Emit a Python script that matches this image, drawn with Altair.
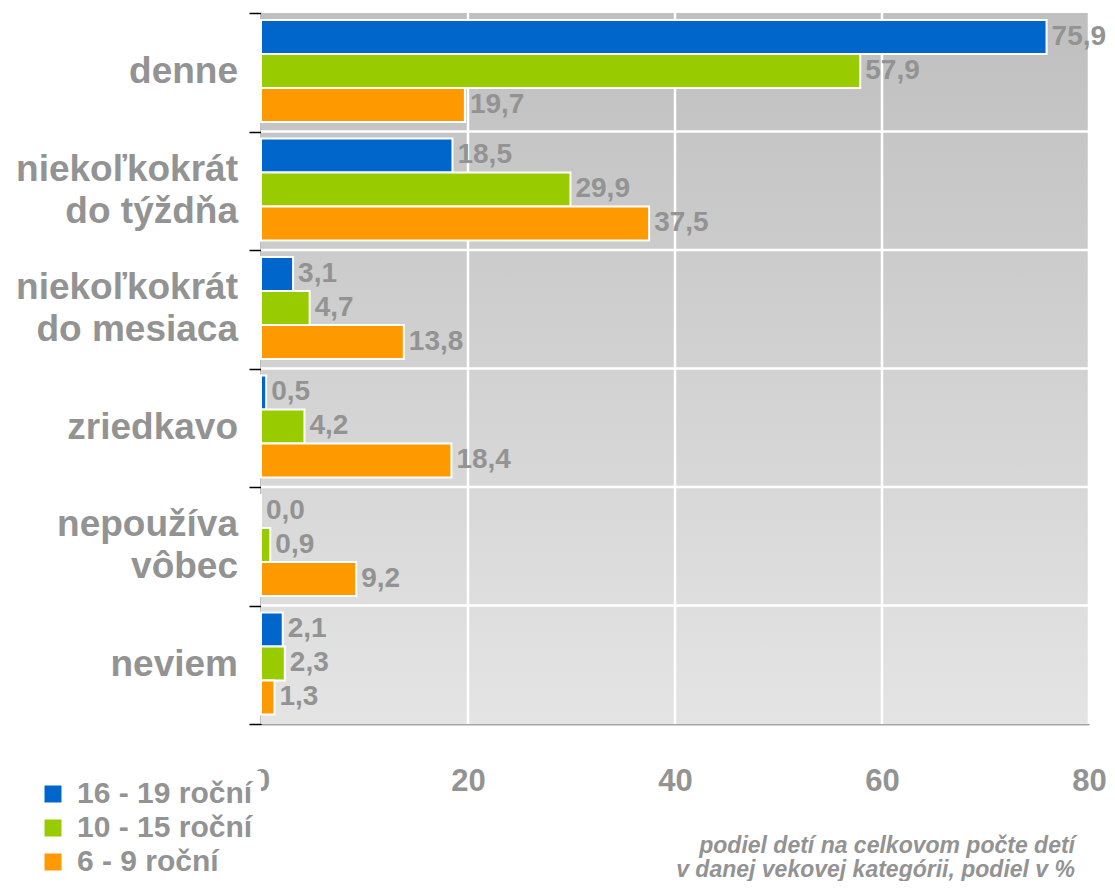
import altair as alt
import pandas as pd

# ---- data ----
categories = ["denne", "niekoľkokrát\ndo týždňa", "niekoľkokrát\ndo mesiaca",
              "zriedkavo", "nepoužíva\nvôbec", "neviem"]
series = ["16 - 19 roční", "10 - 15 roční", "6 - 9 roční"]
v_16_19 = [75.9, 18.5, 3.1, 0.5, 0.0, 2.1]
v_10_15 = [57.9, 29.9, 4.7, 4.2, 0.9, 2.3]
v_6_9 = [19.7, 37.5, 13.8, 18.4, 9.2, 1.3]
colors = ["#0066CC", "#99CC00", "#FF9900"]
x_ticks = [0, 20, 40, 60, 80]
note = ["podiel detí na celkovom počte detí", "v danej vekovej kategórii, podiel v %"]

rows = []
for s, vals in zip(series, [v_16_19, v_10_15, v_6_9]):
    for c, v in zip(categories, vals):
        rows.append({"category": c, "series": s, "value": v,
                     "label": f"{v:.1f}".replace(".", ",")})
df = pd.DataFrame(rows)

single = pd.DataFrame({"category": [c for c in categories if "\n" not in c]})
single["text"] = single["category"]
double = pd.DataFrame({"category": [c for c in categories if "\n" in c]})
double["line1"] = double["category"].str.split("\n").str[0]
double["line2"] = double["category"].str.split("\n").str[1]

GRAY = "#939393"
FONT = "Liberation Sans"

xscale = alt.Scale(domain=[0, 80], nice=False, zero=True)
yscale = alt.Scale(domain=categories, paddingInner=0, paddingOuter=0)

x_axis = alt.Axis(title=None, values=x_ticks, format="d", labelFontSize=31,
                  labelFontWeight="bold", labelColor=GRAY, labelFont=FONT,
                  labelPadding=42, ticks=False, grid=False, labelFlush=False,
                  domainColor="#a6a6a6", domainWidth=2)
y_axis = alt.Axis(title=None, labels=False,
                  tickBand="extent", tickSize=12, tickColor="black", tickWidth=1.5,
                  domainColor="black", domainWidth=1.5, grid=False)

yoff = alt.YOffset("series:N", sort=series,
                   scale=alt.Scale(domain=series, paddingInner=0, paddingOuter=0.243, align=0.42))

one = pd.DataFrame({"a": [0]})

bg = alt.Chart(one).mark_rect(
    fill=alt.LinearGradient(gradient="linear",
                            stops=[alt.GradientStop(offset=0, color="#bfbfbf"),
                                   alt.GradientStop(offset=1, color="#e4e4e4")],
                            x1=0, x2=0, y1=0, y2=1)
).encode(x=alt.value(0), x2=alt.value("width"), y=alt.value(0), y2=alt.value("height"))

vgrid = alt.Chart(pd.DataFrame({"value": x_ticks[1:]})).mark_rule(
    color="white", strokeWidth=2.5
).encode(x=alt.X("value:Q", scale=xscale, axis=x_axis),
         y=alt.value(0), y2=alt.value("height"))

hgrid = alt.Chart(pd.DataFrame({"category": categories[1:]})).mark_rule(
    color="white", strokeWidth=2.5
).encode(y=alt.Y("category:N", scale=yscale, axis=y_axis, bandPosition=0),
         x=alt.value(0), x2=alt.value("width"))

bars = alt.Chart(df).mark_bar(stroke="white", strokeWidth=2).encode(
    x=alt.X("value:Q", scale=xscale, axis=x_axis),
    y=alt.Y("category:N", scale=yscale, axis=y_axis),
    yOffset=yoff,
    color=alt.Color("series:N", sort=series,
                    scale=alt.Scale(domain=series, range=colors),
                    legend=alt.Legend(title=None, orient="none", legendX=-231, legendY=758,
                                      direction="vertical", symbolType="square",
                                      symbolSize=289, symbolStrokeWidth=0,
                                      labelFontSize=30, labelFontWeight="bold",
                                      labelColor=GRAY, labelFont=FONT, labelOffset=9,
                                      labelLimit=0, rowPadding=4, fillColor="white",
                                      padding=8, zindex=2)),
)

labels = alt.Chart(df).mark_text(
    align="left", baseline="middle", dx=5, fontSize=28, fontWeight="bold",
    color=GRAY, font=FONT
).encode(
    x=alt.X("value:Q", scale=xscale, axis=x_axis),
    y=alt.Y("category:N", scale=yscale, axis=y_axis),
    yOffset=yoff,
    text="label:N",
)

cat_style = dict(align="right", baseline="middle", fontSize=37, fontWeight="bold",
                 color=GRAY, font=FONT)
cat1 = alt.Chart(single).mark_text(**cat_style).encode(
    x=alt.value(-23), y=alt.Y("category:N", scale=yscale, axis=y_axis), text="text:N")
cat2a = alt.Chart(double).mark_text(dy=-21, **cat_style).encode(
    x=alt.value(-23), y=alt.Y("category:N", scale=yscale, axis=y_axis), text="line1:N")
cat2b = alt.Chart(double).mark_text(dy=21, **cat_style).encode(
    x=alt.value(-23), y=alt.Y("category:N", scale=yscale, axis=y_axis), text="line2:N")

annot = alt.Chart(one).mark_text(
    align="right", baseline="alphabetic", fontSize=23, fontWeight="bold",
    fontStyle="italic", color=GRAY, font=FONT, lineHeight=24
).encode(x=alt.value(814), y=alt.value(840), text=alt.value(note))

chart = alt.layer(bg, vgrid, hgrid, bars, labels, cat1, cat2a, cat2b, annot).properties(
    width=828, height=711,
    autosize=alt.AutoSizeParams(type="none"),
    padding={"left": 253, "top": 5, "right": 18, "bottom": 157},
).configure_view(stroke=None).configure(font=FONT)

chart.save("out.html", embed_options={"renderer": "svg", "actions": False})
